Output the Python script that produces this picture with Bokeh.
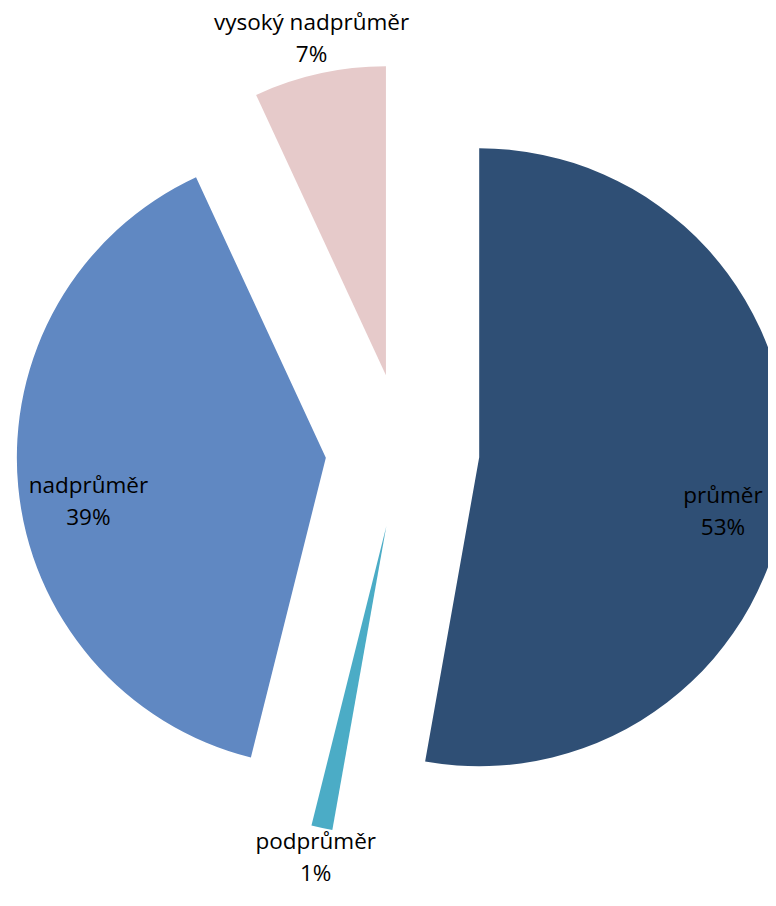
import math
from bokeh.plotting import figure
from bokeh.models import Range1d, ColumnDataSource
from bokeh.core.properties import value
from bokeh.embed import file_html
from bokeh.resources import INLINE

# ---- data ----
categories = ["průměr", "podprůměr", "nadprůměr", "vysoký nadprůměr"]
shares = [52.8, 1.1, 39.2, 6.9]
colors = ["#2F4F75", "#4BACC6", "#6088C2", "#E6CACA"]

# ---- layout parameters ----
R = 309.0          # pie radius (px)
EXPLODE = 77.0     # explode distance (px)
label_frac = [0.806, 1.095, 0.78, 1.12]    # label distance (in radii) beyond explode
label_turn = [5.6, 0.0, -3.6, 0.0]          # small angular nudge for labels (deg)
W, H = 768, 890
CX, CY = 402, 450  # pie centre in figure pixels from top-left

total = sum(shares)
xs, ys, starts, ends = [], [], [], []
lx, ly, names, pcts = [], [], [], []
cum = 0.0
for i, v in enumerate(shares):
    t0 = cum / total * 360.0
    cum += v
    t1 = cum / total * 360.0
    mid = (t0 + t1) / 2.0
    a = math.radians(90.0 - mid)
    xs.append(EXPLODE * math.cos(a)); ys.append(EXPLODE * math.sin(a))
    starts.append(math.radians(90.0 - t0))
    ends.append(math.radians(90.0 - t1))
    la = math.radians(90.0 - mid - label_turn[i])
    d = EXPLODE + label_frac[i] * R
    lx.append(d * math.cos(la)); ly.append(d * math.sin(la))
    names.append(categories[i])
    pcts.append(f"{round(v / total * 100)}%")

src = ColumnDataSource(dict(x=xs, y=ys, start=starts, end=ends, color=colors))
lsrc = ColumnDataSource(dict(x=lx, y=ly, name=names, pct=pcts))

p = figure(width=W, height=H, output_backend="svg", toolbar_location=None,
           x_range=Range1d(-CX, W - CX), y_range=Range1d(CY - H, CY),
           min_border=0)
p.axis.visible = False
p.grid.visible = False
p.outline_line_color = None
p.background_fill_color = "white"

p.wedge(x="x", y="y", radius=R, start_angle="start", end_angle="end",
        direction="clock", fill_color="color", line_color=None, source=src)

p.text(x="x", y="y", text="name", source=lsrc, text_font=value("Open Sans"),
       text_font_size="22.5px", text_color="#000000", text_align="center",
       text_baseline="middle", y_offset=-16)
p.text(x="x", y="y", text="pct", source=lsrc, text_font=value("Open Sans"),
       text_font_size="22.5px", text_color="#000000", text_align="center",
       text_baseline="middle", y_offset=16)

open("out.html", "w").write(file_html(p, INLINE))
